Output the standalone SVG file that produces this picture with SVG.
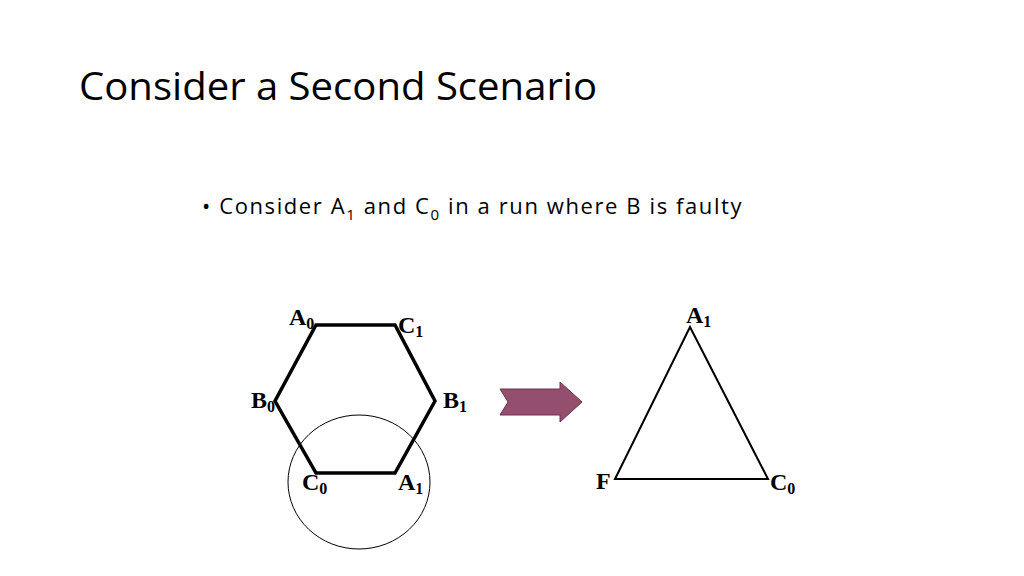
<svg xmlns="http://www.w3.org/2000/svg" width="1024" height="576" viewBox="0 0 1024 576">
<style>
.t{font-family:"Liberation Serif",serif;font-weight:bold;font-size:24px;fill:#000}
.s{font-size:16px}
.c{font-family:"Open Sans","Liberation Sans",sans-serif;fill:#000}
</style>
<rect width="1024" height="576" fill="#fff"/>
<text class="c" x="79" y="100" font-size="38" fill="#222" textLength="518" lengthAdjust="spacingAndGlyphs">Consider a Second Scenario</text>
<text class="c" x="202" y="214" font-size="22" letter-spacing="1.6">• Consider A<tspan font-size="15" dy="6">1</tspan><tspan dy="-6"> and C</tspan><tspan font-size="15" dy="6">0</tspan><tspan dy="-6"> in a run where B is faulty</tspan></text>
<g id="connectors" fill="none" stroke="#000">
<polygon points="316,325 395,325 435,401 395,473 316,473 275,401" stroke-width="3.5"/>
<ellipse cx="359" cy="482" rx="71" ry="67" stroke-width="1"/>
<polygon points="690,327 768,479 615,479" stroke-width="2"/>
</g>
<g id="arrow"><polygon points="500,389 560,389 560,382 582,402 560,422 560,415 500,415 508,402" fill="#944e6e" stroke="#6b3450" stroke-width="1"/></g>
<g id="A0"><text class="t" x="289" y="325">A<tspan class="s" dy="4">0</tspan></text></g>
<g id="C1"><text class="t" x="398" y="333">C<tspan class="s" dy="4">1</tspan></text></g>
<g id="B0"><text class="t" x="251" y="408">B<tspan class="s" dy="4">0</tspan></text></g>
<g id="B1"><text class="t" x="443" y="408">B<tspan class="s" dy="4">1</tspan></text></g>
<g id="C0"><text class="t" x="302" y="490">C<tspan class="s" dy="4">0</tspan></text></g>
<g id="A1"><text class="t" x="398" y="490">A<tspan class="s" dy="4">1</tspan></text></g>
<g id="tA1"><text class="t" x="686" y="323">A<tspan class="s" dy="4">1</tspan></text></g>
<g id="tF"><text class="t" x="596" y="489">F</text></g>
<g id="tC0"><text class="t" x="770" y="490">C<tspan class="s" dy="4">0</tspan></text></g>
</svg>
